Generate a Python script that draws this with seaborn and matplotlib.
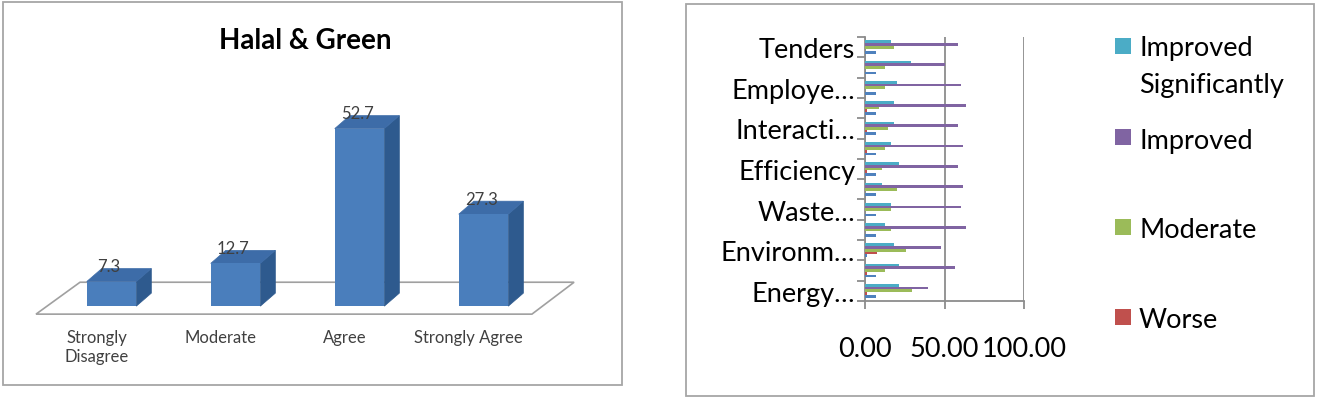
import numpy as np
import pandas as pd
import matplotlib
matplotlib.use("Agg")
import matplotlib.pyplot as plt
import seaborn as sns
from matplotlib.patches import Polygon, Rectangle

# ---------------- data ----------------
# Left chart: Halal & Green
likert_categories = ["Strongly\nDisagree", "Moderate", "Agree", "Strongly Agree"]
likert_values = [7.3, 12.7, 52.7, 27.3]

# Right chart: 13 aspects (top to bottom), only every other label is shown
aspects = ["Tenders", "Suppliers", "Employe\u2026", "Customers", "Interacti\u2026",
           "Image", "Efficiency", "Costs", "Waste\u2026", "Water",
           "Environm\u2026", "Emissions", "Energy\u2026"]
aspect_tick_labels = ["Tenders", "", "Employe\u2026", "", "Interacti\u2026", "",
                      "Efficiency", "", "Waste\u2026", "", "Environm\u2026", "",
                      "Energy\u2026"]
series_names = ["Improved Significantly", "Improved", "Moderate", "Worse",
                "Worse Significantly"]
legend_labels = ["Improved\nSignificantly", "Improved", "Moderate", "Worse"]
improved_sig = [16.4, 28.9, 19.9, 18.2, 18.2, 16.4, 21.6, 10.5, 16.4, 12.6, 18.2, 21.6, 21.6]
improved = [58.3, 50.3, 60.4, 63.5, 58.3, 61.8, 58.3, 61.8, 60.4, 63.5, 47.6, 56.6, 39.8]
moderate = [18.2, 12.6, 12.6, 8.8, 14.3, 12.6, 10.5, 19.9, 16.4, 16.4, 25.6, 12.6, 29.4]
worse = [0.0, 0.0, 0.0, 1.5, 1.5, 1.0, 1.5, 0.0, 0.0, 0.0, 7.3, 1.0, 1.5]
worse_sig = [6.9, 6.9, 6.9, 6.9, 6.9, 6.9, 6.9, 6.9, 6.9, 6.9, 1.0, 6.9, 6.9]
x_ticks = [0, 50, 100]

series_colors = ["#4BACC6", "#8064A2", "#9BBB59", "#C0504D", "#4F81BD"]

# ---------------- style ----------------
sns.set_theme(style="white")
plt.rcParams["font.family"] = ["Lato", "DejaVu Sans"]

W, H = 1317, 402
fig = plt.figure(figsize=(W / 100, H / 100), dpi=100)


def fx(px):
    return px / W


def fy(py):
    return 1 - py / H


# panel borders
fig.patches.append(Rectangle((fx(3), fy(386)), fx(619), 383 / H, transform=fig.transFigure,
                             fill=False, ec="#a6a6a6", lw=1.3))
fig.patches.append(Rectangle((fx(686), fy(397)), fx(628), 392 / H, transform=fig.transFigure,
                             fill=False, ec="#a6a6a6", lw=1.3))

# ---------------- left: pseudo-3D bar chart ----------------
axL = fig.add_axes([fx(36), fy(324), fx(548), 219 / H])
front, side, top = "#4A7EBC", "#2E5A8E", "#3D6CA8"
df_l = pd.DataFrame({"cat": likert_categories, "val": likert_values})
sns.barplot(data=df_l, x="cat", y="val", order=likert_categories, color=front,
            saturation=1, width=0.4, linewidth=0, edgecolor="none", ax=axL, zorder=3)
axL.set_xlim(-0.609, 3.81)
axL.set_ylim(-5, 60)
axL.axis("off")

dx = 15 / 124.0   # depth offset in category units
dy = 13 / 3.37    # depth offset in value units

bars = list(axL.patches)

# floor
floor = Polygon([(-0.609, -2.37), (3.39, -2.37), (3.73, 7.1), (-0.254, 7.1)],
                closed=True, fc="white", ec="#a0a0a0", lw=1.2, zorder=1, clip_on=False)
axL.add_patch(floor)

for p in bars:
    x0 = p.get_x()
    x1 = x0 + p.get_width()
    h = p.get_height()
    axL.add_patch(Polygon([(x1, 0), (x1, h), (x1 + dx, h + dy), (x1 + dx, dy)],
                          closed=True, fc=side, ec=side, lw=0.5, zorder=2, clip_on=False))
    axL.add_patch(Polygon([(x0, h), (x1, h), (x1 + dx, h + dy), (x0 + dx, h + dy)],
                          closed=True, fc=top, ec=top, lw=0.5, zorder=2, clip_on=False))
    cx = x0 + p.get_width() / 2
    axL.text(cx - 0.02, h + dy - 0.8, f"{h:.1f}", ha="center", va="baseline",
             fontsize=12, color="#404040", zorder=5)

for i, lab in enumerate(likert_categories):
    axL.text(i - dx, -6.8, lab, ha="center", va="top", fontsize=12,
             color="#404040", linespacing=1.25, clip_on=False)

fig.text(fx(305), fy(41), "Halal & Green", ha="center", va="center",
         fontsize=20, fontweight="bold", color="black")

# ---------------- right: horizontal grouped bars ----------------
axR = fig.add_axes([fx(865), fy(302), fx(159), 264 / H])
cols = {"aspect": [], "rating": [], "value": []}
for name, vals in zip(series_names, [improved_sig, improved, moderate, worse, worse_sig]):
    for a, v in zip(aspects, vals):
        cols["aspect"].append(a)
        cols["rating"].append(name)
        cols["value"].append(v)
df_r = pd.DataFrame(cols)
sns.barplot(data=df_r, y="aspect", x="value", hue="rating", order=aspects,
            hue_order=series_names, palette=series_colors, orient="h",
            width=0.67, gap=0, saturation=1, linewidth=0, edgecolor="none",
            legend=False, ax=axR, zorder=3)
axR.set_xlim(0, 100)
axR.set_ylim(len(aspects) - 0.5, -0.5)
axR.set_xlabel("")
axR.set_ylabel("")
grey = "#8c8c8c"
for s in ["top", "right"]:
    axR.spines[s].set_visible(False)
for s in ["left", "bottom"]:
    axR.spines[s].set_color(grey)
    axR.spines[s].set_linewidth(1.3)
axR.set_xticks(x_ticks)
axR.set_xticklabels([f"{t:.2f}" for t in x_ticks])
axR.xaxis.grid(True, color=grey, lw=1.3, zorder=0)
axR.tick_params(axis="x", bottom=True, length=6, width=1.3, color=grey, pad=19,
                labelsize=19.5, labelcolor="black")
axR.set_yticks(range(len(aspects)))
axR.set_yticklabels(aspect_tick_labels)
axR.set_yticks(np.arange(-0.5, len(aspects), 1), minor=True)
axR.tick_params(axis="y", which="major", length=0, pad=7, labelsize=19.5, labelcolor="black")
axR.tick_params(axis="y", which="minor", left=True, length=6, width=1.3, color=grey)

# legend (only the first four series fit in the reference)
sq = 16
legend_y = [47, 138, 228, 318]
for lab, col, yc in zip(legend_labels, series_colors, legend_y):
    fig.patches.append(Rectangle((fx(1115), fy(yc + sq / 2)), fx(sq), sq / H,
                                 transform=fig.transFigure, fc=col, ec="none"))
    if "\n" in lab:
        fig.text(fx(1139), fy(yc - 11), lab, ha="left", va="top", fontsize=19.5,
                 linespacing=1.6, color="black")
    else:
        fig.text(fx(1139), fy(yc + 3), lab, ha="left", va="center", fontsize=19.5,
                 color="black")

fig.savefig("out.png", dpi=100, facecolor="white")
